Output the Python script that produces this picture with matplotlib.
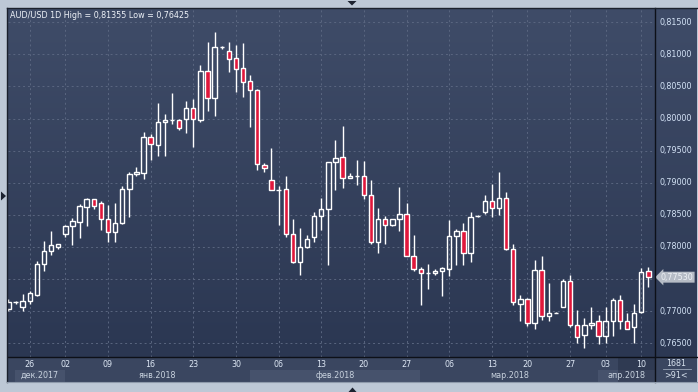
import matplotlib
matplotlib.use("Agg")
import matplotlib.pyplot as plt
import numpy as np
from matplotlib.colors import to_rgb
from matplotlib.patches import Polygon
from matplotlib.lines import Line2D

# ---------------- data ----------------
opens = [0.7703, 0.7715, 0.7707, 0.7716, 0.7725, 0.7773, 0.7793, 0.7800, 0.7821, 0.7832,
         0.7839, 0.7863, 0.7874, 0.7868, 0.7843, 0.7823, 0.7838, 0.7890, 0.7913, 0.7915,
         0.7971, 0.7959, 0.7994, 0.7997, 0.7997, 0.8000, 0.8016, 0.7998, 0.8074, 0.8032,
         0.8111, 0.8105, 0.8094, 0.8078, 0.8058, 0.8044, 0.7927, 0.7904, 0.7889, 0.7891,
         0.7821, 0.7776, 0.7800, 0.7815, 0.7848, 0.7859, 0.7932, 0.7940, 0.7907, 0.7910,
         0.7910, 0.7881, 0.7807, 0.7843, 0.7834, 0.7843, 0.7851, 0.7786, 0.7766, 0.7759,
         0.7759, 0.7763, 0.7766, 0.7817, 0.7825, 0.7790, 0.7848, 0.7854, 0.7872, 0.7860,
         0.7877, 0.7797, 0.7712, 0.7719, 0.7681, 0.7764, 0.7693, 0.7698, 0.7706, 0.7747,
         0.7678, 0.7663, 0.7678, 0.7685, 0.7661, 0.7684, 0.7717, 0.7684, 0.7676, 0.7699,
         0.7763]
highs = [0.7719, 0.7716, 0.7727, 0.7731, 0.7778, 0.7809, 0.7825, 0.7805, 0.7835, 0.7845,
         0.7867, 0.7877, 0.7875, 0.7872, 0.7865, 0.7869, 0.7895, 0.7917, 0.7925, 0.7979,
         0.7976, 0.8024, 0.8007, 0.8040, 0.7999, 0.8027, 0.8030, 0.8083, 0.8119, 0.81355,
         0.8113, 0.8119, 0.8115, 0.8118, 0.8068, 0.8046, 0.7931, 0.7954, 0.7895, 0.7911,
         0.7844, 0.7830, 0.7818, 0.7854, 0.7876, 0.7932, 0.7967, 0.7988, 0.7915, 0.7935,
         0.7934, 0.7904, 0.7861, 0.7849, 0.7843, 0.7893, 0.7869, 0.7819, 0.7769, 0.7774,
         0.7766, 0.7769, 0.7842, 0.7828, 0.7837, 0.7854, 0.7850, 0.7881, 0.7898, 0.7917,
         0.7886, 0.7804, 0.7726, 0.7721, 0.7780, 0.7786, 0.7744, 0.7699, 0.7750, 0.7756,
         0.7702, 0.7689, 0.7707, 0.7694, 0.7707, 0.7721, 0.7725, 0.7698, 0.7711, 0.7768,
         0.7769]
lows = [0.7700, 0.7711, 0.7701, 0.7711, 0.7723, 0.7763, 0.7788, 0.7797, 0.7816, 0.7803,
        0.7814, 0.7833, 0.7859, 0.7826, 0.7807, 0.7807, 0.7836, 0.7847, 0.7911, 0.7906,
        0.7935, 0.7941, 0.7942, 0.7992, 0.7982, 0.7978, 0.7956, 0.7994, 0.8011, 0.8004,
        0.8108, 0.8073, 0.8042, 0.8034, 0.7987, 0.7920, 0.7917, 0.7888, 0.7834, 0.7816,
        0.7775, 0.7757, 0.7799, 0.7807, 0.7827, 0.7772, 0.7889, 0.7892, 0.7907, 0.7897,
        0.7874, 0.7804, 0.7790, 0.7804, 0.7832, 0.7825, 0.7786, 0.7763, 0.7710, 0.7735,
        0.7756, 0.7724, 0.7755, 0.7772, 0.7772, 0.7776, 0.7846, 0.7852, 0.7846, 0.7850,
        0.7795, 0.7710, 0.7685, 0.7677, 0.7673, 0.7686, 0.7685, 0.7697, 0.7706, 0.7675,
        0.7651, 0.76425, 0.7673, 0.7649, 0.7650, 0.7661, 0.7673, 0.7672, 0.7650, 0.7697,
        0.7738]
closes = [0.7715, 0.7715, 0.7716, 0.7728, 0.7773, 0.7794, 0.7803, 0.7804, 0.7833, 0.7840,
          0.7864, 0.7875, 0.7864, 0.7843, 0.7823, 0.7838, 0.7890, 0.7913, 0.7916, 0.7971,
          0.7961, 0.7994, 0.7998, 0.7997, 0.7986, 0.8016, 0.7999, 0.8074, 0.8032, 0.8112,
          0.8111, 0.8093, 0.8077, 0.8057, 0.8044, 0.7929, 0.7923, 0.7888, 0.7889, 0.7821,
          0.7776, 0.7800, 0.7812, 0.7848, 0.7859, 0.7932, 0.7938, 0.7907, 0.7911, 0.7910,
          0.7881, 0.7807, 0.7843, 0.7834, 0.7843, 0.7851, 0.7786, 0.7765, 0.7759, 0.7759,
          0.7763, 0.7767, 0.7817, 0.7825, 0.7790, 0.7846, 0.7848, 0.7872, 0.7860, 0.7877,
          0.7797, 0.7714, 0.7719, 0.7681, 0.7764, 0.7693, 0.7698, 0.7698, 0.7747, 0.7678,
          0.7660, 0.7678, 0.7681, 0.7661, 0.7684, 0.7717, 0.7684, 0.7673, 0.7697, 0.7761,
          0.7753]

day_tick_idx = [3, 8, 14, 20, 26, 32, 38, 44, 50, 56, 62, 68, 73, 79, 84, 89]
day_labels = ["26", "02", "09", "16", "23", "30", "06", "13", "20", "27",
              "06", "13", "20", "27", "03", "10"]
month_start_idx = [1, 8, 34, 58, 83]
month_labels = ["дек.2017", "янв.2018", "фев.2018", "мар.2018", "апр.2018"]
price_ticks = [0.765, 0.770, 0.775, 0.780, 0.785, 0.790, 0.795, 0.800, 0.805, 0.810, 0.815]
last_price = 0.7753
title = "AUD/USD 1D High = 0,81355 Low = 0,76425"
corner_top, corner_bottom = "1681", ">91<"

# ---------------- layout ----------------
W, H = 698, 392
fig = plt.figure(figsize=(W / 100, H / 100), dpi=100)
fig.patch.set_facecolor("#bdc8d6")
plt.rcParams['font.family'] = ['DejaVu Sans']


def px_axes(x0, y0, x1, y1):
    return fig.add_axes([x0 / W, 1 - y1 / H, (x1 - x0) / W, (y1 - y0) / H])


def gradient(ax, top, bottom):
    t = np.array(to_rgb(top))
    b = np.array(to_rgb(bottom))
    g = np.linspace(0, 1, 256)[:, None, None]
    img = t[None, None, :] * (1 - g) + b[None, None, :] * g
    ax.imshow(img, extent=[0, 1, 0, 1], transform=ax.transAxes, aspect='auto',
              zorder=0, interpolation='bilinear')


def clean(ax):
    for s in ax.spines.values():
        s.set_visible(False)
    ax.set_xticks([])
    ax.set_yticks([])


XL, XR, YT, YB = 8, 655, 8, 357
xmin = -0.06
xmax = xmin + (XR - XL) / 7.11
ytop = 0.815 - (YT - 22.2) * 0.0001557
ybot = 0.815 - (YB - 22.2) * 0.0001557

# right price panel
axr = px_axes(XR, YT, 697, YB)
clean(axr)
gradient(axr, "#3f4c68", "#2c3853")
axr.set_xlim(0, 1)
axr.set_ylim(ybot, ytop)
for p in price_ticks:
    if abs(p - 0.775) < 1e-9:
        continue
    axr.text(0.1, p, f"{p:.5f}".replace(".", ","), color="#d4e3f6", fontsize=5.8,
             ha='left', va='center')
axr.text(0.14, last_price, f"{last_price:.5f}".replace(".", ","), color="#eef1f5",
         fontsize=5.8, ha='left', va='center',
         bbox=dict(boxstyle="larrow,pad=0.12", fc="#b6bcc6", ec="none"))

# bottom date panel
axb = px_axes(XL, YB, XR, 382)
clean(axb)
axb.set_facecolor("#3a4660")
axb.set_xlim(xmin, xmax)
axb.set_ylim(0, 1)
edges = [s - 0.05 for s in month_start_idx] + [xmax]
for k, lab in enumerate(month_labels):
    a, b = edges[k], edges[k + 1]
    if k % 2 == 0:
        axb.axvspan(a, b, ymin=0, ymax=0.5, color="#46526c", lw=0)
    axb.text((a + b) / 2, 0.25, lab, color="#c9d3df", fontsize=5.8, ha='center', va='center')
axb.axvspan(85.7, xmax, color="#1c2438", alpha=0.35, lw=0)

# bottom-right corner box
axc = px_axes(XR, YB, 697, 382)
clean(axc)
axc.set_facecolor("#3a4660")
axc.set_xlim(0, 1)
axc.set_ylim(0, 1)
axc.text(0.5, 0.76, corner_top, color="#d8e2ee", fontsize=5.8, ha='center', va='center')
axc.text(0.5, 0.28, corner_bottom, color="#d8e2ee", fontsize=5.8, ha='center', va='center')
axc.plot([0.18, 0.85], [0.53, 0.53], color="#9aa6b8", lw=0.6)

# main chart
ax = px_axes(XL, YT, XR, YB)
for s in ax.spines.values():
    s.set_visible(False)
gradient(ax, "#3f4c68", "#2b3752")

o = np.array(opens)
h = np.array(highs)
l = np.array(lows)
c = np.array(closes)
x = np.arange(len(o))
top = np.maximum(o, c)
bot = np.minimum(o, c)
bear = c < o

ax.vlines(x, top, h, color="white", lw=1.0, zorder=3)
ax.vlines(x, l, bot, color="white", lw=1.0, zorder=3)
ax.bar(x[~bear], (top - bot)[~bear], bottom=bot[~bear], width=0.62,
       facecolor="none", edgecolor="white", lw=1.0, zorder=4)
ax.bar(x[bear], (top - bot)[bear], bottom=bot[bear], width=0.62,
       facecolor="#e0173b", edgecolor="white", lw=1.0, zorder=4)

ax.set_xlim(xmin, xmax)
ax.set_ylim(ybot, ytop)
ax.set_yticks(price_ticks)
ax.set_yticklabels([])
ax.tick_params(axis='y', length=0)
ax.set_xticks(day_tick_idx)
ax.set_xticklabels(day_labels)
ax.tick_params(axis='x', length=0, pad=2.2, labelsize=5.8, labelcolor="#dde7f4")
ax.grid(True, color="#5a6680", linestyle=(0, (2, 3)), lw=0.7, zorder=1)
ax.set_axisbelow(True)
ax.text(0.003, 0.992, title, transform=ax.transAxes, color="#eef2f8", fontsize=5.8,
        ha='left', va='top', zorder=6)


# ---------------- frame lines & markers ----------------
def fl(xs, ys, color, lw):
    fig.add_artist(Line2D([v / W for v in xs], [1 - v / H for v in ys], color=color, lw=lw))


fl([XR, XR], [YT, 382], "#0d1018", 1.0)
fl([XL, 697], [YB, YB], "#0d1018", 1.0)
fl([7.5, 697], [7.5, 7.5], "#1a202c", 1.0)
fl([7.5, 7.5], [7.5, 382], "#1a202c", 1.0)
fl([7.5, 697], [382, 382], "#8e9aab", 0.8)


def tri(pts, color):
    fig.add_artist(Polygon([(px / W, 1 - py / H) for px, py in pts], closed=True,
                           fc=color, ec="none", transform=fig.transFigure))


tri([(347.5, 1), (356.5, 1), (352, 5.5)], "#1c2230")
tri([(1, 191.5), (1, 200.5), (6, 196)], "#1c2230")
tri([(348.5, 392), (356.5, 392), (352.5, 387.5)], "#1c2230")

fig.savefig("out.png", dpi=100, facecolor=fig.get_facecolor())
